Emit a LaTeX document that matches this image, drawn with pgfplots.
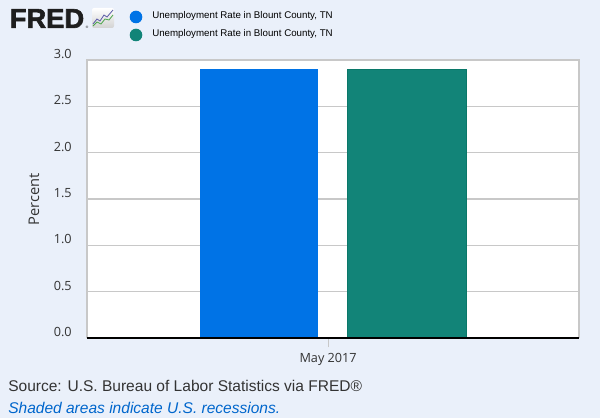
\documentclass[border=0pt]{standalone}
\usepackage{pgfplots}
\pgfplotsset{compat=1.18}
\usepackage{fontspec}
\setmainfont{Liberation Sans}
\newfontfamily\opensans{Open Sans}
\newfontfamily\fredfont[FakeBold=2.2]{Liberation Sans Bold}
\definecolor{bgc}{RGB}{234,240,250}
\definecolor{barblue}{RGB}{0,115,230}
\definecolor{barteal}{RGB}{18,132,120}
\definecolor{txt}{RGB}{51,51,51}
\definecolor{gridc}{RGB}{200,200,200}
\definecolor{linkc}{RGB}{0,102,204}
\begin{document}
\begin{tikzpicture}
\begin{scope}[x=0.75pt,y=-0.75pt,yshift=313.5pt]
\fill[bgc] (0,0) rectangle (600,418);
% FRED logo
\node[anchor=west,inner sep=0pt,text={rgb,255:red,30;green,30;blue,30}] at (9.5,18.5) {\fontsize{20.5}{22}\selectfont\fredfont FRED};
\node[anchor=west,inner sep=0pt,text=black] at (85.5,27) {\fontsize{2.5}{3}\selectfont\textregistered};
\shade[top color=white,bottom color=gray!35,rounded corners=1.5] (92,8) rectangle (114,28);
\draw[gray!70!blue,line width=0.6] (93,24) -- (97,19) -- (100,21) -- (104,15) -- (107,17) -- (113,10);
\draw[green!50!black!70,line width=0.6] (93,26) -- (97,22) -- (101,24) -- (105,19) -- (109,20) -- (113,15);
% legend
\fill[barblue] (136,17) circle (6.3);
\fill[barteal] (136,35) circle (6.3);
\node[anchor=west,inner sep=0pt,text=black] at (152,16) {\fontsize{7.3}{8}\selectfont Unemployment Rate in Blount County, TN};
\node[anchor=west,inner sep=0pt,text=black] at (152,33.5) {\fontsize{7.3}{8}\selectfont Unemployment Rate in Blount County, TN};
\node[anchor=west,inner sep=0pt,text=txt] at (8,386) {\fontsize{11.65}{13}\selectfont Source: U.S. Bureau of Labor Statistics via FRED\textregistered};
\node[anchor=west,inner sep=0pt,text=linkc] at (8,408) {\fontsize{11.65}{13}\selectfont\itshape Shaded areas indicate U.S. recessions.};
\end{scope}
\begin{axis}[
  at={(65.25pt,60pt)}, anchor=south west,
  scale only axis, width=369pt, height=208.5pt,
  xmin=-1, xmax=1, ymin=0, ymax=3,
  axis background/.style={fill=white},
  ytick={0,0.5,1,1.5,2,2.5,3},
  /pgf/number format/fixed, /pgf/number format/fixed zerofill, /pgf/number format/precision=1, /pgf/number format/assume math mode=true,
  yticklabel style={font=\opensans\fontsize{9.5}{11}\selectfont, text=txt, yshift=4.5pt, xshift=-8pt},
  xtick={-0.02}, xticklabels={May 2017},
  xticklabel style={font=\opensans\fontsize{9.5}{11}\selectfont, text=txt, yshift=-1pt},
  major x tick style={draw=gridc, line width=0.6pt},
  x tick style={draw=gridc}, xtick align=outside, major tick length=7pt,
  y tick style={draw=none},
  ymajorgrids, grid style={draw=gridc, line width=0.8pt},
  axis line style={draw=gridc, line width=0.8pt},
  axis x line*=bottom, 
  ylabel={Percent}, ylabel style={font=\opensans\fontsize{11}{13}\selectfont, text=txt, yshift=4pt},
  clip=false,
]
\addplot[ybar, fill=barblue, draw=none, bar width=0.48, bar shift=-0.3] coordinates {(0,2.9)};
\addplot[ybar, fill=barteal, draw={rgb,255:red,10;green,120;blue,105}, line width=0.4pt, bar width=0.48, bar shift=0.3] coordinates {(0,2.9)};
\draw[gridc, line width=0.8pt] (axis cs:-1,0) -- (axis cs:-1,3) -- (axis cs:1,3) -- (axis cs:1,0);
\draw[black, line width=1.5pt] (axis cs:-1,0) -- (axis cs:1,0);
\end{axis}
\end{tikzpicture}
\end{document}
